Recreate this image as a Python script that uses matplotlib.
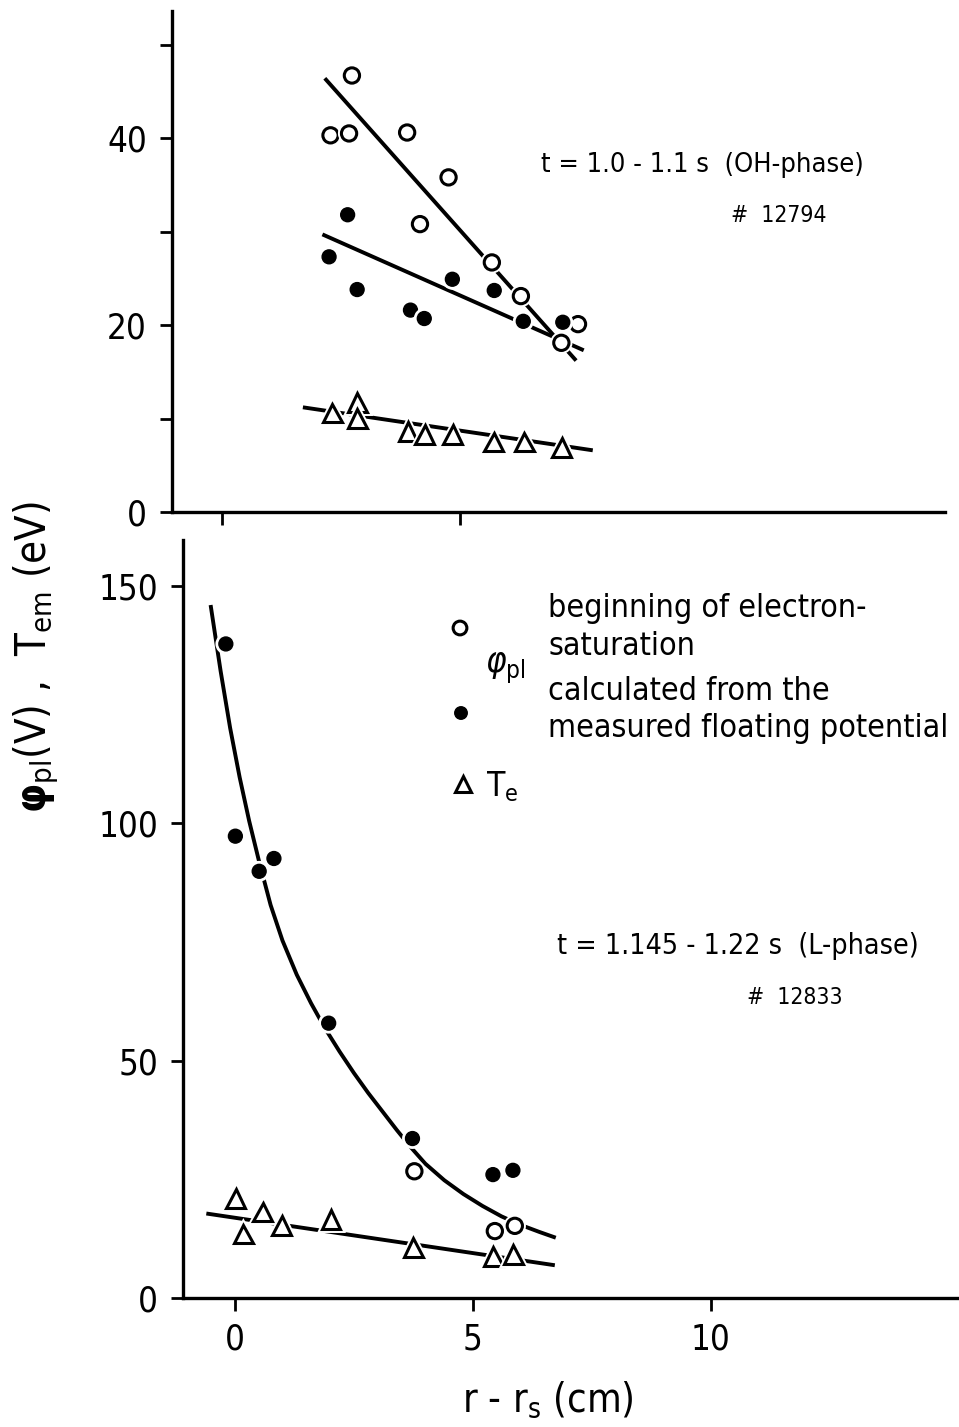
import matplotlib.pyplot as plt
import matplotlib.patheffects as pe
from matplotlib.lines import Line2D

W, H = 959, 1427

# ---- top panel: t = 1.0-1.1 s (OH-phase), shot 12794 ----
top_open_x = [2.28, 2.67, 2.73, 3.89, 4.76, 4.16, 5.67, 6.28, 7.13, 7.48]
top_open_y = [40.3, 40.5, 46.7, 40.6, 35.8, 30.8, 26.7, 23.1, 18.1, 20.1]
top_fill_x = [2.64, 2.25, 2.84, 3.96, 4.25, 4.84, 5.72, 6.33, 7.16]
top_fill_y = [31.8, 27.3, 23.8, 21.6, 20.7, 24.9, 23.7, 20.4, 20.3]
top_te_x = [2.32, 2.84, 2.84, 3.91, 4.26, 4.85, 5.71, 6.35, 7.14]
top_te_y = [10.6, 11.7, 10.0, 8.6, 8.3, 8.3, 7.5, 7.5, 6.9]
top_open_fit_x, top_open_fit_y = [2.16, 7.44], [46.4, 16.2]
top_fill_fit_x, top_fill_fit_y = [2.11, 7.60], [29.7, 17.3]
top_te_fit_x, top_te_fit_y = [1.70, 7.79], [11.2, 6.6]

# ---- bottom panel: t = 1.145-1.22 s (L-phase), shot 12833 ----
bot_fill_x = [-0.19, 0.01, 0.51, 0.82, 1.97, 3.73, 5.42, 5.84]
bot_fill_y = [137.8, 97.3, 89.9, 92.6, 57.9, 33.6, 26.0, 26.9]
bot_open_x = [3.77, 5.46, 5.88]
bot_open_y = [26.7, 14.1, 15.2]
bot_te_x = [0.02, 0.18, 0.58, 0.98, 2.02, 3.75, 5.43, 5.85]
bot_te_y = [21.0, 13.5, 18.1, 15.3, 16.6, 10.6, 8.8, 9.1]
bot_curve_x = [-0.51, -0.3, -0.1, 0.1, 0.3, 0.5, 0.75, 1.0, 1.3, 1.6, 1.9, 2.2, 2.5,
               2.8, 3.1, 3.4, 3.7, 4.0, 4.4, 4.8, 5.2, 5.6, 6.0, 6.4, 6.74]
bot_curve_y = [146.0, 132.1, 120.1, 109.7, 100.5, 92.3, 82.8, 75.3, 68.1, 62.1, 56.7,
               51.9, 47.4, 43.2, 39.3, 35.4, 31.7, 28.3, 24.8, 21.9, 19.4, 17.2,
               15.4, 13.9, 12.7]
bot_te_fit_x, bot_te_fit_y = [-0.60, 6.72], [17.8, 6.9]

plt.rcParams['font.family'] = ['DejaVu Sans']
plt.rcParams['font.stretch'] = 'condensed'
plt.rcParams['mathtext.fontset'] = 'dejavusans'


def box(left, top, right, bottom):
    return [left / W, 1 - bottom / H, (right - left) / W, (bottom - top) / H]


def fx(px):
    return px / W


def fy(py):
    return 1 - py / H


halo = [pe.withStroke(linewidth=5, foreground='white')]
open_kw = dict(ls='none', marker='o', ms=11, mfc='white', mec='black', mew=2.2,
               path_effects=halo, zorder=4)
fill_kw = dict(ls='none', marker='o', ms=10, mfc='black', mec='black', mew=1,
               path_effects=halo, zorder=4)
tri_kw = dict(ls='none', marker='^', ms=13.5, mfc='white', mec='black', mew=2.2,
              path_effects=halo, zorder=4)
line_kw = dict(color='black', lw=2.8, solid_capstyle='butt', zorder=2)

fig = plt.figure(figsize=(W / 100, H / 100), dpi=100)

ax1 = fig.add_axes(box(172, 11, 945, 512))
ax2 = fig.add_axes(box(183, 540, 959, 1298))

ax1.plot(top_open_fit_x, top_open_fit_y, **line_kw)
ax1.plot(top_fill_fit_x, top_fill_fit_y, **line_kw)
ax1.plot(top_te_fit_x, top_te_fit_y, **line_kw)
ax1.plot(top_open_x, top_open_y, **open_kw)
ax1.plot(top_fill_x, top_fill_y, **fill_kw)
ax1.plot(top_te_x, top_te_y, **tri_kw)
ax1.set_xlim(-1.05, 15.19)
ax1.set_ylim(0, 53.6)
ax1.set_yticks([0, 10, 20, 30, 40, 50])
ax1.set_yticklabels(['0', '', '20', '', '40', ''])
ax1.set_xticks([0, 5])
ax1.set_xticklabels(['', ''])

ax2.plot(bot_curve_x, bot_curve_y, **line_kw)
ax2.plot(bot_te_fit_x, bot_te_fit_y, **line_kw)
ax2.plot(bot_fill_x, bot_fill_y, **fill_kw)
ax2.plot(bot_open_x, bot_open_y, **open_kw)
ax2.plot(bot_te_x, bot_te_y, **tri_kw)
ax2.set_xlim(-1.09, 15.21)
ax2.set_ylim(0, 159.7)
ax2.set_yticks([0, 50, 100, 150])
ax2.set_xticks([0, 5, 10])

for ax in (ax1, ax2):
    for s in ('top', 'right'):
        ax.spines[s].set_visible(False)
    for s in ('left', 'bottom'):
        ax.spines[s].set_linewidth(2.4)
    ax.tick_params(direction='out', length=9, width=2, labelsize=25, pad=9)
    ax.patch.set_alpha(0)

# annotations
fig.text(fx(541), fy(165), 't = 1.0 - 1.1 s  (OH-phase)', fontsize=19.5,
         ha='left', va='center')
fig.text(fx(731), fy(216), '#  12794', fontsize=16.5, ha='left', va='center')
fig.text(fx(557), fy(946), 't = 1.145 - 1.22 s  (L-phase)', fontsize=20.5,
         ha='left', va='center')
fig.text(fx(747), fy(997), '#  12833', fontsize=16.5, ha='left', va='center')

# legend block
leg = [(460, 628, open_kw), (461, 713, fill_kw), (463, 784, tri_kw)]
for px, py, kw in leg:
    k = dict(kw)
    k['ms'] = kw['ms'] * 0.9
    fig.add_artist(Line2D([fx(px)], [fy(py)], transform=fig.transFigure, **k))
fig.text(fx(485), fy(668), r'$\varphi_{\mathrm{pl}}$', fontsize=25, ha='left', va='center')
fig.text(fx(486), fy(787), r'T$_{\mathrm{e}}$', fontsize=24, ha='left', va='center')
for txt, py in [('beginning of electron-', 609), ('saturation', 646),
                ('calculated from the', 691), ('measured floating potential', 729)]:
    fig.text(fx(548), fy(py), txt, fontsize=23, ha='left', va='center')

# axis labels
fig.text(fx(36), fy(657), r'$\mathbf{\varphi}_{\mathrm{pl}}$(V) ,  T$_{\mathrm{em}}$ (eV)',
         fontsize=30, rotation=90, ha='center', va='center')
fig.text(fx(548), fy(1400), r'r - r$_{\mathrm{s}}$ (cm)', fontsize=28.5,
         ha='center', va='center')

fig.savefig('out.png', dpi=100)
